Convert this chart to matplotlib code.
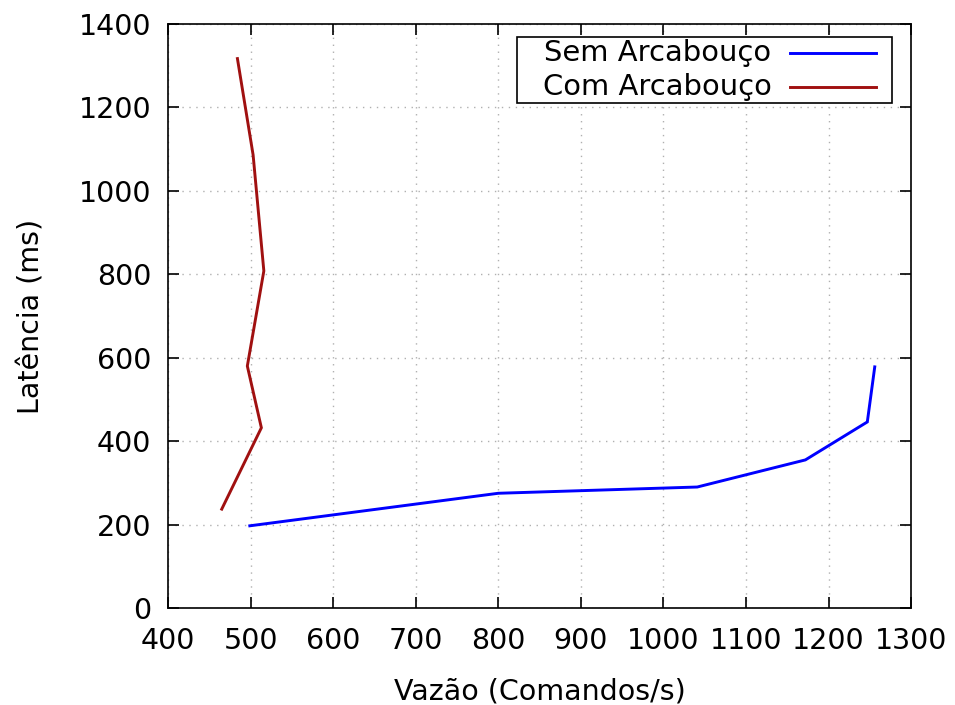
import matplotlib
matplotlib.use("Agg")
import matplotlib.pyplot as plt
from matplotlib.lines import Line2D
from matplotlib.patches import Rectangle

sem_x = [499, 800, 1041, 1172, 1247, 1256]
sem_y = [197, 275, 290, 355, 446, 578]
com_x = [465, 513, 496, 516, 503, 484]
com_y = [237, 432, 580, 808, 1086, 1317]

series_names = ["Sem Arcabouço", "Com Arcabouço"]
xticks = [400, 500, 600, 700, 800, 900, 1000, 1100, 1200, 1300]
yticks = [0, 200, 400, 600, 800, 1000, 1200, 1400]

plt.rcParams['font.family'] = ['DejaVu Sans']
fig = plt.figure(figsize=(9.55, 7.05), dpi=100)
ax = fig.add_axes([0.176, 0.1376, 0.778, 0.8284])

c_sem = "#0000ff"
c_com = "#a01010"
ax.plot(sem_x, sem_y, color=c_sem, lw=2.1, solid_joinstyle='miter')
ax.plot(com_x, com_y, color=c_com, lw=2.1, solid_joinstyle='miter')

ax.set_xlim(400, 1300)
ax.set_ylim(0, 1400)
ax.set_xticks(xticks)
ax.set_yticks(yticks)
ax.tick_params(direction='in', length=8, width=1.2, labelsize=20.5,
               top=True, right=True, colors='black')
ax.tick_params(axis='y', pad=12)
ax.tick_params(axis='x', pad=14)
ax.grid(True, linestyle=(0, (1, 4)), color='#b0b0b0', lw=1.0)
for s in ax.spines.values():
    s.set_linewidth(1.2)

ax.set_xlabel("Vazão (Comandos/s)", fontsize=20.5, labelpad=16)
ax.set_ylabel("Latência (ms)", fontsize=20.5, labelpad=24)

# legend (gnuplot style: text right-aligned, sample on the right)
ax.add_patch(Rectangle((0.470, 0.865), 0.504, 0.113, transform=ax.transAxes,
                       facecolor='white', edgecolor='black', lw=1.2, zorder=5))
rows_y = [0.950, 0.892]
for name, col, yy in zip(series_names, [c_sem, c_com], rows_y):
    ax.text(0.812, yy, name, transform=ax.transAxes, ha='right', va='center',
            fontsize=20.9, zorder=6)
    ax.add_line(Line2D([0.837, 0.953], [yy, yy], transform=ax.transAxes,
                       color=col, lw=2.1, zorder=6))

fig.savefig("out.png", dpi=100)
